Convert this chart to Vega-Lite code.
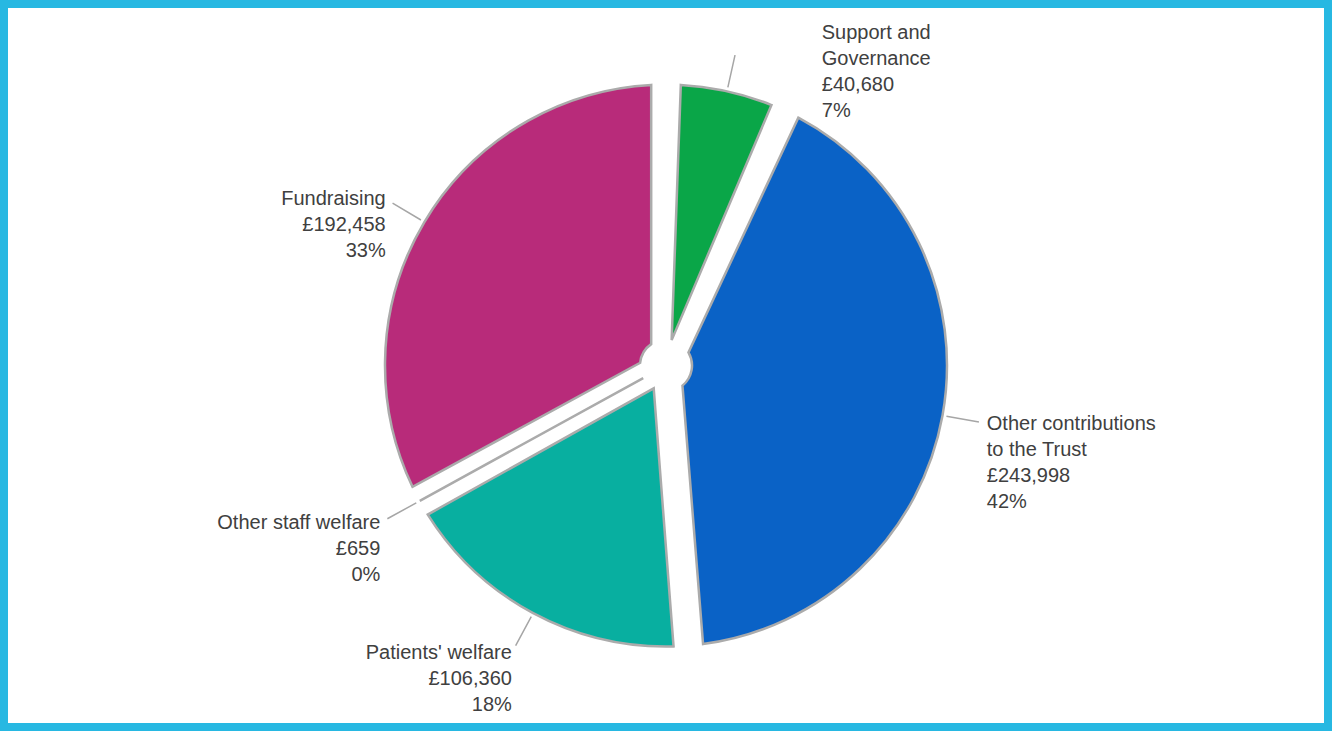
{
  "$schema": "https://vega.github.io/schema/vega-lite/v6.json",
  "autosize": {"type": "fit", "contains": "padding"},
  "width": 1332,
  "height": 731,
  "padding": 0,
  "background": "white",
  "config": {"view": {"stroke": null}},
  "datasets": {
    "slices": [
      {"idx": 1, "Category": "Support and Governance", "Amount": 40680, "label": "Support and\nGovernance\n£40,680\n7%"},
      {"idx": 2, "Category": "Other contributions to the Trust", "Amount": 243998, "label": "Other contributions\nto the Trust\n£243,998\n42%"},
      {"idx": 3, "Category": "Patients' welfare", "Amount": 106360, "label": "Patients' welfare\n£106,360\n18%"},
      {"idx": 4, "Category": "Other staff welfare", "Amount": 659, "label": "Other staff welfare\n£659\n0%"},
      {"idx": 5, "Category": "Fundraising", "Amount": 192458, "label": "Fundraising\n£192,458\n33%"}
    ],
    "frame": [{"name": "frame"}]
  },
  "layer": [
    {
      "data": {"name": "slices"},
      "mark": {"type": "arc", "outerRadius": 281, "innerRadius": 26, "padAngle": 0.105, "stroke": "#ababab", "strokeWidth": 2.5},
      "encoding": {
        "theta": {"field": "Amount", "type": "quantitative", "stack": true},
        "order": {"field": "idx", "type": "quantitative"},
        "color": {
          "field": "Category",
          "type": "nominal",
          "legend": null,
          "scale": {
            "domain": ["Support and Governance", "Other contributions to the Trust", "Patients' welfare", "Other staff welfare", "Fundraising"],
            "range": ["#0aa648", "#0a62c6", "#08afa0", "#2fd6cf", "#b82b7a"]
          }
        }
      }
    },
    {
      "data": {"name": "slices"},
      "mark": {"type": "arc", "outerRadius": 318, "innerRadius": 285, "padAngle": 3, "fill": null, "fillOpacity": 0, "stroke": "#a6a6a6", "strokeWidth": 1.5},
      "encoding": {
        "theta": {"field": "Amount", "type": "quantitative", "stack": true},
        "order": {"field": "idx", "type": "quantitative"}
      }
    },
    {
      "data": {"name": "slices"},
      "mark": {
        "type": "text",
        "radius": 326,
        "font": "Liberation Sans",
        "fontSize": 20,
        "lineHeight": 26,
        "lineBreak": "\n",
        "color": "#404040",
        "baseline": "middle",
        "align": {"expr": "datum.idx >= 3 ? 'right' : 'left'"},
        "dx": {"expr": "datum.idx == 1 ? 85 : 0"},
        "dy": {"expr": "datum.idx == 1 ? -14 : 0"}
      },
      "encoding": {
        "theta": {"field": "Amount", "type": "quantitative", "stack": true},
        "order": {"field": "idx", "type": "quantitative"},
        "text": {"field": "label"}
      }
    },
    {
      "data": {"name": "frame"},
      "mark": {"type": "rect", "fill": null, "fillOpacity": 0, "stroke": "#27b8e2", "strokeWidth": 8}
    }
  ]
}
